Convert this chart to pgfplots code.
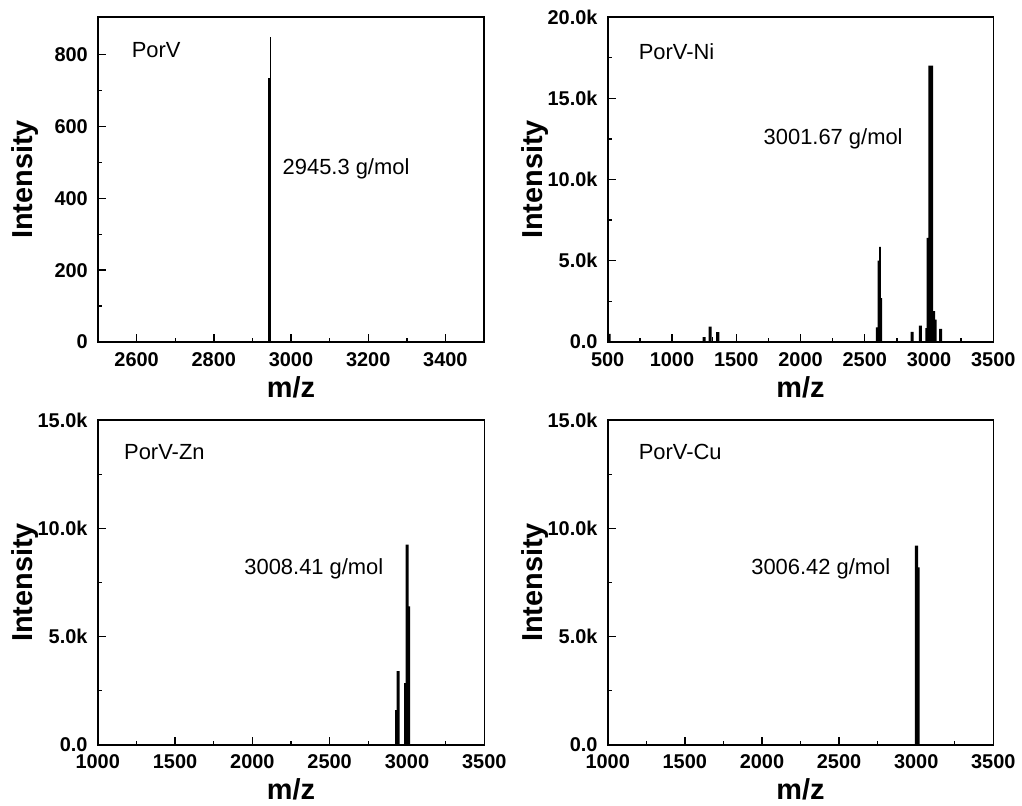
\documentclass[border=0pt]{standalone}
\usepackage{fontspec}
\setmainfont{Liberation Sans}
\usepackage{pgfplots}
\pgfplotsset{compat=1.18}
\pgfplotsset{
  ms/.style={
    scale only axis,
    axis line style={line width=1.6bp},
    every tick/.style={line width=1.4bp, black},
    major tick length=8bp, minor tick length=4bp,
    tick align=inside,
    xtick pos=left, ytick pos=left,
    minor x tick num=1, minor y tick num=1,
    ymin=0,
    /pgf/number format/assume math mode=true,
    /pgf/number format/1000 sep={},
    ticklabel style={font=\bfseries\fontsize{20}{22}\selectfont, inner sep=1bp},
    xticklabel style={yshift=-9bp},
    yticklabel style={xshift=-9bp},
    label style={font=\bfseries\fontsize{29}{30}\selectfont},
    xlabel={m/z}, ylabel={Intensity},
    xlabel style={at={(axis description cs:0.5,-0.138)},anchor=center},
    ylabel style={at={(axis description cs:-0.188,0.5)},anchor=center},
    scaled ticks=false,
    clip=true,
  },
  pk/.style={ybar, bar shift=0pt, fill=black, draw=none},
}
\tikzset{ann/.style={font=\fontsize{22}{24}\selectfont, anchor=west, inner sep=0pt}}
\begin{document}
\begin{tikzpicture}
\useasboundingbox (0,0) rectangle (1022bp,806bp);
% Panel 1: PorV
\begin{axis}[ms, at={(98bp,464bp)}, anchor=south west, width=386bp, height=325bp,
  xmin=2500, xmax=3500, ymax=905,
  xtick={2600,2800,3000,3200,3400}, ytick={0,200,400,600,800}]
\addplot[pk, bar width=7] coordinates {(2945,735)};
\addplot[pk, bar width=2.5] coordinates {(2946,850)};
\node[ann] at (rel axis cs:0.087,0.898) {PorV};
\node[ann] at (rel axis cs:0.478,0.534) {2945.3 g/mol};
\end{axis}
% Panel 2: PorV-Ni
\begin{axis}[ms, at={(607.7bp,464bp)}, anchor=south west, width=385.6bp, height=325bp,
  xmin=500, xmax=3500, ymax=20000,
  xtick={500,1000,1500,2000,2500,3000,3500},
  ytick={0,5000,10000,15000,20000}, yticklabels={0.0,5.0k,10.0k,15.0k,20.0k}]
\addplot[pk, bar width=24] coordinates {
 (510,500) (1250,300) (1297,950) (1356,600)
 (2868,620) (2932,1000) (3090,800)};
\addplot[pk, bar width=12] coordinates {(1314,300)};
\addplot[pk, bar width=13] coordinates {
 (2593,900) (2606,5000) (2618,5850) (2629,2700)
 (2977,860) (2988,6400)
 (3001,17000) (3014,17000) (3026,17000) (3040,1900) (3052,1380)};
\node[ann] at (rel axis cs:0.080,0.893) {PorV-Ni};
\node[ann] at (rel axis cs:0.404,0.624) {3001.67 g/mol};
\end{axis}
% Panel 3: PorV-Zn
\begin{axis}[ms, at={(97.7bp,61.3bp)}, anchor=south west, width=386.6bp, height=324.4bp,
  xmin=1000, xmax=3500, ymax=15000,
  xtick={1000,1500,2000,2500,3000,3500},
  ytick={0,5000,10000,15000}, yticklabels={0.0,5.0k,10.0k,15.0k}]
\addplot[pk, bar width=10] coordinates {
 (2928,1600) (2938,3400) (2948,3400) (2986,2850) (2996,9250) (3006,9250) (3016,6400)};
\node[ann] at (rel axis cs:0.068,0.901) {PorV-Zn};
\node[ann] at (rel axis cs:0.379,0.543) {3008.41 g/mol};
\end{axis}
% Panel 4: PorV-Cu
\begin{axis}[ms, at={(607.7bp,61.3bp)}, anchor=south west, width=385.6bp, height=324.4bp,
  xmin=1000, xmax=3500, ymax=15000,
  xtick={1000,1500,2000,2500,3000,3500},
  ytick={0,5000,10000,15000}, yticklabels={0.0,5.0k,10.0k,15.0k}]
\addplot[pk, bar width=10] coordinates {(2997,9200) (3007,9200) (3018,8200)};
\node[ann] at (rel axis cs:0.080,0.901) {PorV-Cu};
\node[ann] at (rel axis cs:0.372,0.543) {3006.42 g/mol};
\end{axis}
\end{tikzpicture}
\end{document}
